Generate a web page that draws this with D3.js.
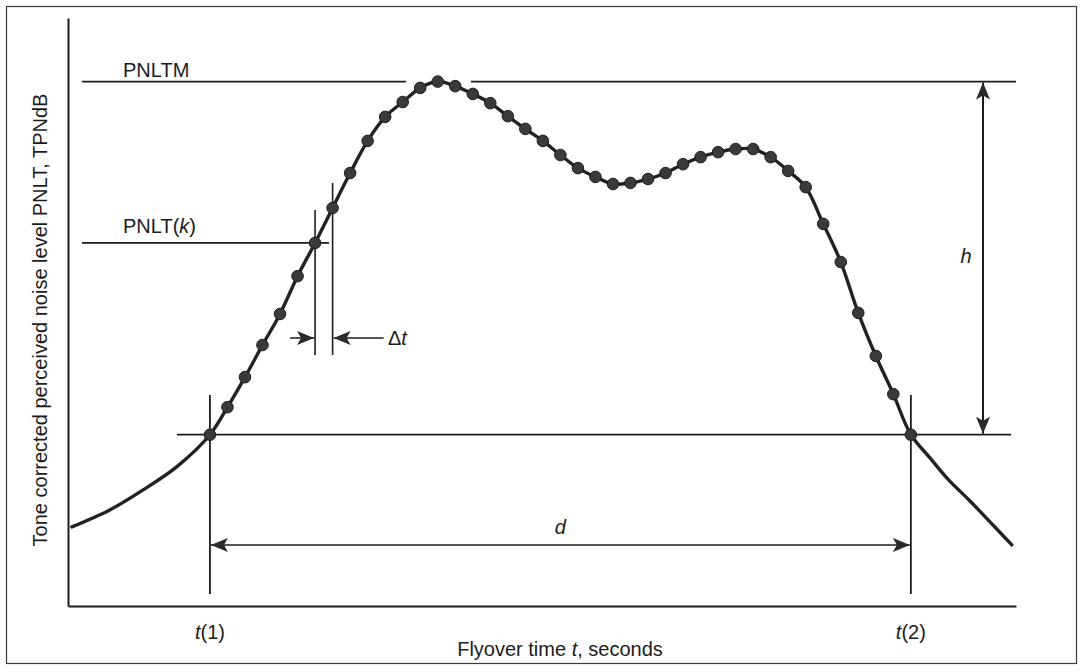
<!DOCTYPE html>
<html>
<head>
<meta charset="utf-8">
<script src="https://cdn.jsdelivr.net/npm/d3@7"></script>
<style>
  html, body { margin: 0; padding: 0; background: #fff; }
  svg { display: block; }
  text { font-family: "Liberation Sans", Arial, Helvetica, sans-serif; fill: #1c1c1c; }
</style>
</head>
<body>
<svg id="chart" width="1082" height="672"></svg>
<script>
// Sampled tone-corrected noise levels between the two 10 dB down points (half-second steps)
const sampleTimes = [10, 10.5, 11, 11.5, 12, 12.5, 13, 13.5, 14, 14.5,
                     15, 15.5, 16, 16.5, 17, 17.5, 18, 18.5, 19, 19.5,
                     20, 20.5, 21, 21.5, 22, 22.5, 23, 23.5, 24, 24.5,
                     25, 25.5, 26, 26.5, 27, 27.5, 28, 28.5, 29, 29.5, 30];
const sampleLevels = [90.0, 90.78, 91.63, 92.54, 93.42, 94.49, 95.43, 96.42, 97.41, 98.32,
                      99.00, 99.42, 99.82, 100.0, 99.87, 99.65, 99.39, 99.02, 98.66, 98.32,
                      97.92, 97.55, 97.30, 97.10, 97.13, 97.24, 97.41, 97.66, 97.86, 98.00,
                      98.09, 98.09, 97.86, 97.47, 97.01, 95.97, 94.89, 93.45, 92.23, 91.15, 90.0];

// Continuous record before and after the sampled interval
const leadTimes  = [6.06, 7.14, 8.08, 9.05];
const leadLevels = [87.39, 87.87, 88.43, 89.09];
const tailTimes  = [30.54, 31.05, 31.68, 32.25, 32.88];
const tailLevels = [89.35, 88.75, 88.13, 87.54, 86.88];

// Reference quantities
const pnltm = 100;          // maximum PNLT
const downLevel = 90;       // PNLTM - 10
const kIndex = 6;           // sample used for PNLT(k)
const t1 = 10, t2 = 30;     // 10 dB down times

// Axis extents (time in seconds, level in TPNdB)
const timeDomain = [5.95, 33.0];
const levelDomain = [85.15, 101.8];

const svg = d3.select("#chart");
const x = d3.scaleLinear().domain(timeDomain).range([68, 1016]);
const y = d3.scaleLinear().domain(levelDomain).range([606, 18]);

const ink = "#1c1c1c";

// Outer frame
svg.append("rect")
  .attr("x", 6.5).attr("y", 6.5).attr("width", 1070).attr("height", 657)
  .attr("fill", "none").attr("stroke", "#3a3a3a").attr("stroke-width", 1.2);

// Arrowhead marker
const defs = svg.append("defs");
defs.append("marker")
  .attr("id", "arrow")
  .attr("markerUnits", "userSpaceOnUse")
  .attr("markerWidth", 18).attr("markerHeight", 16)
  .attr("viewBox", "0 0 18 16")
  .attr("refX", 17).attr("refY", 8)
  .attr("orient", "auto-start-reverse")
  .append("path")
  .attr("d", "M0,1 L17,8 L0,15 L4,8 Z")
  .attr("fill", "#2a2a2a");

// Axes drawn as bare lines (no ticks)
svg.append("g")
  .attr("transform", `translate(0,${y(levelDomain[0])})`)
  .call(d3.axisBottom(x).tickValues([]).tickSizeOuter(0))
  .call(g => g.select(".domain").attr("stroke", ink).attr("stroke-width", 2));
svg.append("g")
  .attr("transform", `translate(${x(timeDomain[0])},0)`)
  .call(d3.axisLeft(y).tickValues([]).tickSizeOuter(0))
  .call(g => g.select(".domain").attr("stroke", ink).attr("stroke-width", 2));

const guides = svg.append("g").attr("stroke", ink).attr("stroke-width", 1.8).attr("fill", "none");

// PNLTM line, interrupted at the peak
guides.append("line").attr("x1", 82).attr("x2", 406).attr("y1", y(pnltm)).attr("y2", y(pnltm));
guides.append("line").attr("x1", 471).attr("x2", 1016).attr("y1", y(pnltm)).attr("y2", y(pnltm));

// PNLTM - 10 line
guides.append("line").attr("x1", 177).attr("x2", 1011).attr("y1", y(downLevel)).attr("y2", y(downLevel));

// PNLT(k) line
const kTime = sampleTimes[kIndex], kLevel = sampleLevels[kIndex];
const k1Time = sampleTimes[kIndex + 1];
guides.append("line").attr("x1", 82).attr("x2", x(kTime) + 14).attr("y1", y(kLevel)).attr("y2", y(kLevel));

// t(1), t(2) verticals
[t1, t2].forEach(t => {
  guides.append("line").attr("x1", x(t)).attr("x2", x(t)).attr("y1", 395).attr("y2", 594);
});

// Delta-t verticals
guides.append("line").attr("x1", x(kTime)).attr("x2", x(kTime)).attr("y1", 210).attr("y2", 355).attr("stroke-width", 1.6);
guides.append("line").attr("x1", x(k1Time)).attr("x2", x(k1Time)).attr("y1", 183).attr("y2", 355).attr("stroke-width", 1.6);

// Delta-t arrows
const dtY = 338;
guides.append("line").attr("x1", x(kTime) - 25).attr("x2", x(kTime) - 1).attr("y1", dtY).attr("y2", dtY)
  .attr("stroke-width", 1.5).attr("marker-end", "url(#arrow)");
guides.append("line").attr("x1", x(k1Time) + 51).attr("x2", x(k1Time) + 1).attr("y1", dtY).attr("y2", dtY)
  .attr("stroke-width", 1.5).attr("marker-end", "url(#arrow)");

// h arrow (PNLTM to PNLTM - 10)
const hX = 983;
guides.append("line").attr("x1", hX).attr("x2", hX).attr("y1", y(pnltm) + 1).attr("y2", y(downLevel) - 1)
  .attr("stroke-width", 2).attr("marker-start", "url(#arrow)").attr("marker-end", "url(#arrow)");

// d arrow (t(1) to t(2))
const dY = 545;
guides.append("line").attr("x1", x(t1) + 1).attr("x2", x(t2) - 1).attr("y1", dY).attr("y2", dY)
  .attr("stroke-width", 1.6).attr("marker-start", "url(#arrow)").attr("marker-end", "url(#arrow)");

// Noise-time history curve
const curveData = [];
leadTimes.forEach((t, i) => curveData.push([t, leadLevels[i]]));
sampleTimes.forEach((t, i) => curveData.push([t, sampleLevels[i]]));
tailTimes.forEach((t, i) => curveData.push([t, tailLevels[i]]));

const line = d3.line()
  .x(d => x(d[0])).y(d => y(d[1]))
  .curve(d3.curveCatmullRom.alpha(0.5));

svg.append("path")
  .datum(curveData)
  .attr("d", line)
  .attr("fill", "none")
  .attr("stroke", "#222")
  .attr("stroke-width", 3.4)
  .attr("stroke-linejoin", "round")
  .attr("stroke-linecap", "round");

// Sample points
svg.append("g").selectAll("circle")
  .data(sampleTimes.map((t, i) => [t, sampleLevels[i]]))
  .join("circle")
  .attr("cx", d => x(d[0]))
  .attr("cy", d => y(d[1]))
  .attr("r", 5.8)
  .attr("fill", "#3a3a3a")
  .attr("stroke", "#1e1e1e")
  .attr("stroke-width", 1);

// Labels
const fs = 20;
svg.append("text").attr("x", 123).attr("y", 77).attr("font-size", fs).text("PNLTM");

const pk = svg.append("text").attr("x", 123).attr("y", 233).attr("font-size", fs);
pk.append("tspan").text("PNLT(");
pk.append("tspan").attr("font-style", "italic").text("k");
pk.append("tspan").text(")");

const dt = svg.append("text").attr("x", 388).attr("y", 345).attr("font-size", fs);
dt.append("tspan").text("\u0394");
dt.append("tspan").attr("font-style", "italic").text("t");

svg.append("text").attr("x", hX - 17).attr("y", 263).attr("text-anchor", "middle")
  .attr("font-size", fs).attr("font-style", "italic").text("h");

svg.append("text").attr("x", (x(t1) + x(t2)) / 2).attr("y", 534).attr("text-anchor", "middle")
  .attr("font-size", fs).attr("font-style", "italic").text("d");

[[t1, "1"], [t2, "2"]].forEach(([t, n]) => {
  const lab = svg.append("text").attr("x", x(t)).attr("y", 639).attr("text-anchor", "middle").attr("font-size", fs);
  lab.append("tspan").attr("font-style", "italic").text("t");
  lab.append("tspan").text(`(${n})`);
});

const xl = svg.append("text").attr("x", 560).attr("y", 656).attr("text-anchor", "middle").attr("font-size", fs);
xl.append("tspan").text("Flyover time ");
xl.append("tspan").attr("font-style", "italic").text("t");
xl.append("tspan").text(", seconds");

svg.append("text")
  .attr("transform", "translate(47,320) rotate(-90)")
  .attr("text-anchor", "middle")
  .attr("font-size", fs)
  .text("Tone corrected perceived noise level PNLT, TPNdB");
</script>
</body>
</html>
